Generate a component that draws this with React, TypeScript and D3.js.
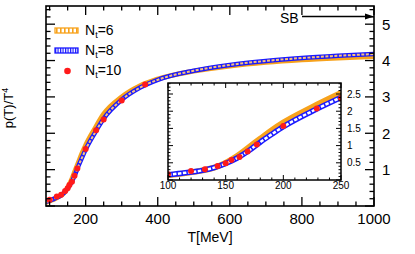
import React from "react";
import * as d3 from "d3";

// p/T^4
const tempsNt8 = [90, 100, 115, 130, 140, 150, 160, 170, 180, 190, 200, 225, 250, 300, 350, 400, 500, 600, 700, 800, 900, 1000];
const pNt8 = [0.11, 0.15, 0.21, 0.28, 0.36, 0.48, 0.64, 0.85, 1.1, 1.33, 1.55, 2.0, 2.4, 2.92, 3.25, 3.47, 3.72, 3.88, 3.99, 4.07, 4.13, 4.18];
const tempsNt6 = [90, 100, 115, 130, 140, 150, 160, 170, 180, 190, 200, 225, 250, 300, 350, 400, 500, 600, 700, 800, 900, 1000];
const pNt6 = [0.1, 0.14, 0.2, 0.28, 0.36, 0.5, 0.7, 0.95, 1.2, 1.45, 1.67, 2.12, 2.53, 3.0, 3.3, 3.49, 3.71, 3.85, 3.95, 4.02, 4.07, 4.11];
const tempsNt10 = [100, 120, 132, 143, 150, 155, 162, 169, 177, 200, 229, 250, 300, 365];
const pNt10 = [0.17, 0.26, 0.31, 0.41, 0.49, 0.58, 0.67, 0.83, 1.03, 1.57, 2.08, 2.38, 2.9, 3.34];
const sbLimit = 5.21;

const mainXTicks = [200, 400, 600, 800, 1000];
const mainYTicks = [1, 2, 3, 4, 5];
const insetXTicks = [100, 150, 200, 250];
const insetYTicks = [0.5, 1, 1.5, 2, 2.5];

const FONT = "'Liberation Sans', Arial, sans-serif";

const App = () => {
  const x = d3.scaleLinear().domain([90, 1000]).range([46, 374]);
  const y = d3.scaleLinear().domain([0, 5.5]).range([206, 6]);
  const ix = d3.scaleLinear().domain([100, 250]).range([168, 341]);
  const iy = d3.scaleLinear().domain([0, 2.82]).range([180, 83]);

  const nt8 = tempsNt8.map((t, i) => [t, pNt8[i]]);
  const nt6 = tempsNt6.map((t, i) => [t, pNt6[i]]);
  const nt10 = tempsNt10.map((t, i) => [t, pNt10[i]]);

  const mainLine = d3.line().x((d) => x(d[0])).y((d) => y(d[1])).curve(d3.curveMonotoneX);
  const insetLine = d3.line().x((d) => ix(d[0])).y((d) => iy(d[1])).curve(d3.curveMonotoneX);
  const insetNt8 = nt8.filter((d) => d[0] >= 100 && d[0] <= 250);
  const insetNt6 = nt6.filter((d) => d[0] >= 100 && d[0] <= 250);

  const mainMinorX = d3.range(100, 1001, 50);
  const mainMinorY = d3.range(0, 5.5, 0.2);
  const insetMinorX = d3.range(100, 251, 10);
  const insetMinorY = d3.range(0, 2.81, 0.1);

  const [x0, x1] = x.range();
  const [y0, y1] = y.range();
  const [ix0, ix1] = ix.range();
  const [iy0, iy1] = iy.range();

  return (
    <svg width={415} height={254} style={{ position: "absolute", left: 0, top: 0, background: "#fff" }} fontFamily={FONT}>
      <defs>
        <clipPath id="mainClip"><rect x={x0} y={y1} width={x1 - x0} height={y0 - y1} /></clipPath>
        <clipPath id="insetClip"><rect x={ix0} y={iy1} width={ix1 - ix0} height={iy0 - iy1} /></clipPath>
        <pattern id="hatch6" width="4" height="6" patternUnits="userSpaceOnUse">
          <rect width="4" height="6" fill="#fff" />
          <rect width="1.6" height="6" fill="#f7a21b" />
        </pattern>
        <pattern id="hatch8" width="2.5" height="6" patternUnits="userSpaceOnUse">
          <rect width="2.5" height="6" fill="#fff" />
          <rect width="1.2" height="6" fill="#1a1aff" />
        </pattern>
      </defs>

      {/* main curves */}
      <g clipPath="url(#mainClip)">
        <path d={mainLine(nt6) || ""} fill="none" stroke="#f7a21b" strokeWidth={5} />
        <path d={mainLine(nt8) || ""} fill="none" stroke="#1a1aff" strokeWidth={4.5} />
        <path d={mainLine(nt8) || ""} fill="none" stroke="#f9c27a" strokeWidth={2} strokeDasharray="3,1.5" />
        {nt10.map((d, i) => (
          <circle key={i} cx={x(d[0])} cy={y(d[1])} r={3} fill="#ff1a1a" />
        ))}
      </g>

      {/* main frame and ticks */}
      <rect x={x0} y={y1} width={x1 - x0} height={y0 - y1} fill="none" stroke="#000" strokeWidth={1.6} />
      {mainMinorX.map((t) => {
        const len = t % 200 === 0 ? 9 : 4.5;
        return (
          <g key={"mx" + t} stroke="#000" strokeWidth={1.3}>
            <line x1={x(t)} x2={x(t)} y1={y0} y2={y0 - len} />
            <line x1={x(t)} x2={x(t)} y1={y1} y2={y1 + len} />
          </g>
        );
      })}
      {mainMinorY.map((v, i) => {
        const len = i % 5 === 0 ? 9 : 4.5;
        return (
          <g key={"my" + i} stroke="#000" strokeWidth={1.3}>
            <line x1={x0} x2={x0 + len} y1={y(v)} y2={y(v)} />
            <line x1={x1} x2={x1 - len} y1={y(v)} y2={y(v)} />
          </g>
        );
      })}
      {mainXTicks.map((t) => (
        <text key={"xl" + t} x={x(t)} y={224} fontSize={15} textAnchor="middle">{t}</text>
      ))}
      {mainYTicks.map((v) => (
        <text key={"yl" + v} x={382} y={y(v) + 5.5} fontSize={15}>{v}</text>
      ))}
      <text x={210} y={242} fontSize={14} textAnchor="middle">T[MeV]</text>
      <text transform="translate(13,108) rotate(-90)" fontSize={13} textAnchor="middle">
        p(T)/T<tspan fontSize={9} dy={-5}>4</tspan>
      </text>

      {/* SB limit */}
      <text x={280} y={23} fontSize={14}>SB</text>
      <line x1={302} x2={366} y1={y(sbLimit)} y2={y(sbLimit)} stroke="#000" strokeWidth={1.5} />
      <path d={`M${x1},${y(sbLimit)} l-9,-3 l0,6 z`} fill="#000" />

      {/* legend */}
      <rect x={55} y={28} width={23} height={5} fill="url(#hatch6)" stroke="#f7a21b" strokeWidth={1.3} />
      <text x={85} y={35} fontSize={14}>N<tspan fontSize={9} dy={3}>t</tspan><tspan dy={-3}>=6</tspan></text>
      <rect x={55} y={48} width={23} height={5} fill="url(#hatch8)" stroke="#1a1aff" strokeWidth={1.3} />
      <text x={85} y={55} fontSize={14}>N<tspan fontSize={9} dy={3}>t</tspan><tspan dy={-3}>=8</tspan></text>
      <circle cx={67.5} cy={71} r={3.3} fill="#ff1a1a" />
      <text x={85} y={75} fontSize={14}>N<tspan fontSize={9} dy={3}>t</tspan><tspan dy={-3}>=10</tspan></text>

      {/* inset */}
      <rect x={ix0} y={iy1} width={ix1 - ix0} height={iy0 - iy1} fill="#fff" />
      <g clipPath="url(#insetClip)">
        <path d={insetLine(insetNt6) || ""} fill="none" stroke="#f7a21b" strokeWidth={6} />
        <path d={insetLine(insetNt8) || ""} fill="none" stroke="#1a1aff" strokeWidth={5.5} />
        <path d={insetLine(insetNt8) || ""} fill="none" stroke="#fff" strokeWidth={2.5} strokeDasharray="3.5,1.5" />
        {nt10.filter((d) => d[0] <= 250).map((d, i) => (
          <circle key={i} cx={ix(d[0])} cy={iy(d[1])} r={3} fill="#ff1a1a" />
        ))}
      </g>
      <rect x={ix0} y={iy1} width={ix1 - ix0} height={iy0 - iy1} fill="none" stroke="#000" strokeWidth={1.5} />
      {insetMinorX.map((t) => {
        const len = t % 50 === 0 ? 5 : 2.5;
        return (
          <g key={"ix" + t} stroke="#000" strokeWidth={1}>
            <line x1={ix(t)} x2={ix(t)} y1={iy0} y2={iy0 - len} />
            <line x1={ix(t)} x2={ix(t)} y1={iy1} y2={iy1 + len} />
          </g>
        );
      })}
      {insetMinorY.map((v, i) => {
        const len = i % 5 === 0 ? 5 : 2.5;
        return (
          <g key={"iy" + i} stroke="#000" strokeWidth={1}>
            <line x1={ix0} x2={ix0 + len} y1={iy(v)} y2={iy(v)} />
            <line x1={ix1} x2={ix1 - len} y1={iy(v)} y2={iy(v)} />
          </g>
        );
      })}
      {insetXTicks.map((t) => (
        <text key={"ixl" + t} x={ix(t)} y={189} fontSize={10} textAnchor="middle">{t}</text>
      ))}
      {insetYTicks.map((v) => (
        <text key={"iyl" + v} x={347} y={iy(v) + 3.5} fontSize={10}>{v}</text>
      ))}
    </svg>
  );
};

export default App;
